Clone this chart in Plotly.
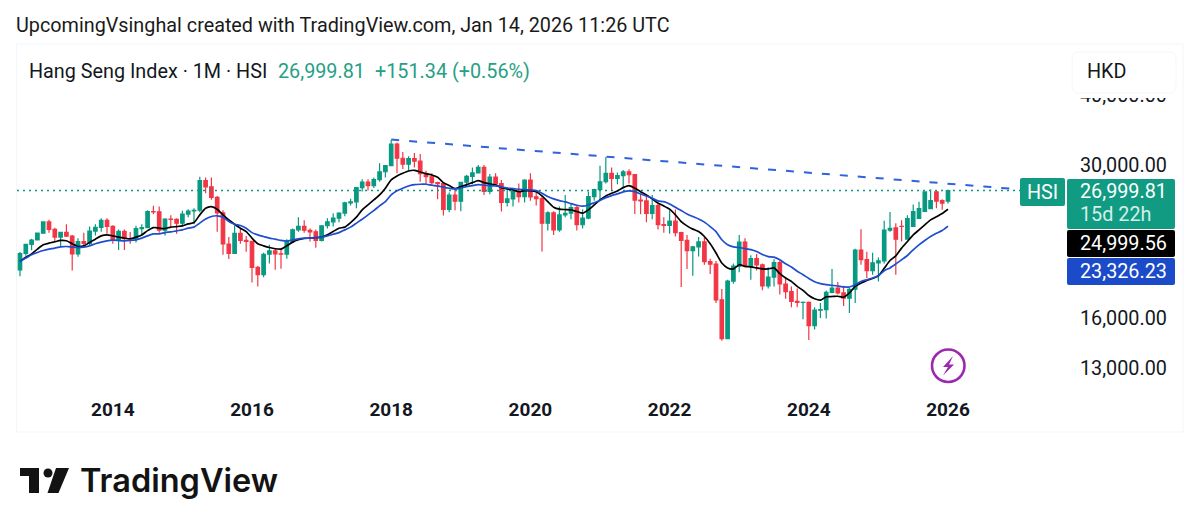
import plotly.graph_objects as go

# Month index 0 = Sep 2012, last = Jan 2026
open_values = [19482,20840,21641,22030,22656,23729,23020,22299,22737,22392,20803,21883,21731,22859,23206,23881,
23306,22035,22836,22151,22134,23081,23190,24756,24742,22932,23998,23987,23605,24507,24823,24900,28133,27424,26250,24636,
21670,20846,22640,21996,21914,19683,19111,20777,21067,20815,20794,21891,22977,23297,22934,22790,22000,23361,23741,24111,
24615,25660,25765,27323,27970,27554,28245,29177,29919,32700,30844,30093,30808,30468,28955,28583,27888,27788,24979,26506,
25845,27942,28633,29051,29699,26901,28542,27777,25724,26092,26906,26346,28189,26312,26129,23603,24643,22961,24427,24595,
25177,23459,24107,26341,27100,28000,28980,28378,28725,29151,28827,25961,25878,24575,25377,23475,23397,23802,22713,21996,
21089,21415,21859,20156,19954,17222,14687,18597,19781,21842,19785,20400,19894,18234,18916,20078,18382,17809,17112,17042,
17047,15485,16511,16541,17763,18079,17718,17344,17989,21133,20317,19424,20059,20225,22941,23160,23300,22119,23290,24072,
24773,25077,26855,25906,25858,25631]
high_values = [20960,21700,22150,22700,23750,23944,23180,22800,23512,22500,22200,22700,23300,23500,24100,24100,
23400,23000,23000,22760,23370,23500,24900,25360,25300,24100,24400,24100,24850,25000,25100,28588,28500,28500,26400,24900,
22300,23400,23100,22400,21915,19800,20900,21600,21300,21300,22100,23100,24200,23900,23100,23000,23400,24100,24600,24700,
25800,26100,27400,28300,28300,28500,30199,30003,33250,32900,31650,31100,31500,31400,29300,29000,28000,27800,26800,27260,
28000,28800,29700,30000,30000,28900,29000,28200,27400,27000,27800,28300,29000,27000,26400,24800,24800,25300,26500,25600,
25400,25000,26900,27200,29900,31000,29700,29100,29400,29490,28900,26600,26500,26500,25700,24200,24900,24966,22800,22500,
21500,22300,22300,20400,20200,18000,18700,20000,22500,22200,20700,20800,20000,19700,20361,20250,18900,18200,18050,17100,
17100,16700,17000,17900,19560,18540,18250,18100,21250,23040,21000,20900,20500,23860,24720,23600,23900,24400,25500,25800,
26900,27120,27000,26050,27000]
low_values = [18980,20640,21130,22000,22660,22700,21900,21400,22300,19426,20570,21350,21560,22450,22800,22600,
21700,21150,21137,21700,21800,22500,23190,24500,22700,22450,23300,22600,23300,24200,23500,24700,26700,26000,22800,20730,
20368,20800,21700,21000,18500,18200,18900,20000,19500,19580,20400,21800,22800,22700,21900,21340,21900,23100,23300,23700,
24300,25400,25100,26900,27000,27300,28000,28500,29900,28990,29500,29300,29700,28000,27640,27500,26050,24360,24700,24900,
24800,27500,27700,29400,26500,26600,27500,24770,25300,25300,25700,25700,25900,25400,21010,22900,22500,22800,24200,24000,
22900,23100,24000,25900,26000,27800,27000,27700,27400,27800,24530,24500,23700,24000,23000,22700,22600,22350,18160,19560,
19020,20580,19900,19150,17000,14560,14680,18400,19300,19700,18710,19440,17910,18050,18200,17600,17300,16700,16700,15900,
14600,15240,15990,15950,17700,17600,16800,16320,17000,19900,18840,19100,18580,20000,22800,19100,21900,23000,23900,24500,
24800,25010,25110,24940,25600]
close_values = [20840,21641,22030,22656,23729,23020,22299,22737,22392,20803,21883,21731,22859,23206,23881,23306,
22035,22836,22151,22134,23081,23190,24756,24742,22932,23998,23987,23605,24507,24823,24900,28133,27424,26250,24636,21670,
20846,22640,21996,21914,19683,19111,20777,21067,20815,20794,21891,22977,23297,22934,22790,22000,23361,23741,24111,24615,
25660,25765,27323,27970,27554,28245,29177,29919,32700,30844,30093,30808,30468,28955,28583,27888,27788,24979,26506,25845,
27942,28633,29051,29699,26901,28542,27777,25724,26092,26906,26346,28189,26312,26129,23603,24643,22961,24427,24595,25177,
23459,24107,26341,27100,28000,28980,28378,28725,29151,28827,25961,25878,24575,25377,23475,23397,23802,22713,21996,21089,
21415,21859,20156,19954,17222,14687,18597,19781,21842,19785,20400,19894,18234,18916,20078,18382,17809,17112,17042,17047,
15485,16511,16541,17763,18079,17718,17344,17989,21133,20317,19424,20059,20225,22941,23119,22100,23290,24072,24773,25077,
26855,25906,25858,25631,26999.81]
black_line = [20170,20530,20810,21220,21600,21750,21870,21990,21960,21690,21450,21510,21810,22110,22410,22500,
22410,22290,22200,22140,22290,22500,22900,23190,23130,23090,23230,23280,23350,23540,23670,24430,25110,25280,25010,24430,
23930,23510,23130,22810,22200,21690,21510,21360,21250,21220,21510,21840,22050,22170,22200,22250,22290,22500,22810,23130,
23230,23670,24200,24940,25450,25980,26520,27260,28210,28680,29000,29270,29350,29150,28950,28790,28520,27900,27560,27210,
27440,27640,27900,28130,27900,27750,27640,27330,27180,27070,26880,26990,26990,26880,26410,25800,25210,25010,24970,24940,
24770,24600,24940,25450,25980,26410,26700,26960,27330,27560,27260,26880,26520,26090,25640,25350,25010,24430,23770,23350,
23040,22810,22350,21690,20880,20040,19640,19560,19900,19770,19720,19640,19560,19560,19640,19180,18840,18580,18200,17910,
17530,17300,17200,17440,17460,17480,17410,17720,18200,18450,18660,18810,19020,19610,20250,20640,21310,21900,22500,22970,
23450,23930,24250,24570,24999.56]
blue_line = [20170,20450,20730,20930,21100,21220,21310,21420,21450,21400,21360,21400,21510,21690,21840,21960,
22020,21990,21960,21990,22050,22200,22410,22590,22590,22710,22780,22880,22970,23130,23230,23620,24010,24270,24340,24210,
23770,23510,23380,23130,22710,22500,22350,22200,22110,21990,21930,22050,22140,22200,22200,22230,22290,22410,22560,22710,
22970,23230,23620,24000,24430,24870,25350,25800,26520,26990,27260,27520,27670,27710,27710,27600,27520,27380,27260,27180,
27290,27440,27560,27670,27600,27560,27520,27410,27290,27210,27150,27100,27070,26990,26700,26340,26090,25910,25770,25590,
25420,25320,25450,25690,25910,26230,26450,26630,26850,26960,26880,26630,26410,26160,25880,25800,25560,25210,24870,24530,
24260,24030,23710,23280,22810,22050,21600,21420,21360,21270,21180,21010,20750,20580,20530,20310,19980,19720,19370,19100,
18810,18560,18410,18330,18280,18230,18160,18160,18330,18580,18710,18840,19020,19420,19640,19960,20310,20670,21160,21600,
21990,22350,22650,22910,23326.23]
year_labels = ["2014","2016","2018","2020","2022","2024","2026"]
year_months = [16,40,64,88,112,136,160]
price_ticks = [13000,16000,30000,40000]
trend_months = [64,171.5]
trend_prices = [33300,27180]
GREEN = "#089981"; RED = "#F23645"; BLACK = "#000000"; BLUE = "#1E4ECF"
FONT = "Roboto"
L, R, T, B = 17, 1065, 90, 390
W, H = 1200, 531
def fx(p): return (p - L) / (R - L)
def fy(p): return (B - p) / (B - T)

months = list(range(len(close_values)))
fig = go.Figure()
fig.add_trace(go.Scatter(x=[-0.517,180.17], y=[close_values[-1]]*2, mode="lines",
    line=dict(color=GREEN, width=1.5, dash="2px,4px"), hoverinfo="skip"))
fig.add_trace(go.Candlestick(x=months, open=open_values, high=high_values, low=low_values, close=close_values,
    increasing=dict(line=dict(color=GREEN, width=1.2), fillcolor=GREEN),
    decreasing=dict(line=dict(color=RED, width=1.2), fillcolor=RED), whiskerwidth=0))
fig.add_trace(go.Scatter(x=months, y=black_line, mode="lines", line=dict(color=BLACK, width=1.7, shape="spline", smoothing=0.6)))
fig.add_trace(go.Scatter(x=months, y=blue_line, mode="lines", line=dict(color=BLUE, width=1.7, shape="spline", smoothing=0.6)))
fig.add_trace(go.Scatter(x=trend_months, y=trend_prices, mode="lines", line=dict(color="#2F63DE", width=2, dash="8px,10px")))

shapes, ann = [], []
def rect(x0, y0, x1, y1, fill, line=None, r=2):
    xa, xb, ya, yb = fx(x0), fx(x1), fy(y0), fy(y1)
    rx, ry = r/(R-L), r/(B-T)
    path = (f"M{xa+rx},{ya} L{xb-rx},{ya} Q{xb},{ya} {xb},{ya-ry} L{xb},{yb+ry} Q{xb},{yb} {xb-rx},{yb} "
            f"L{xa+rx},{yb} Q{xa},{yb} {xa},{yb+ry} L{xa},{ya-ry} Q{xa},{ya} {xa+rx},{ya} Z")
    shapes.append(dict(type="path", path=path, xref="paper", yref="paper", fillcolor=fill,
                       line=dict(color=line or fill, width=1 if line else 0), layer="above"))
def poly(pts, fill):
    path = "M" + " L".join(f"{fx(a)},{fy(b)}" for a, b in pts) + " Z"
    shapes.append(dict(type="path", path=path, xref="paper", yref="paper", fillcolor=fill, line=dict(width=0), layer="above"))
def text(x, y, s, color="#131722", size=19.8, anchor="left", weight=400, family=FONT):
    ann.append(dict(x=fx(x), y=fy(y), xref="paper", yref="paper", text=s, showarrow=False, xanchor=anchor, yanchor="middle",
                    xshift=-2 if anchor == "left" else 0, font=dict(family=family, size=size, color=color, weight=weight)))

# frame and header covers
shapes.append(dict(type="rect", xref="paper", yref="paper", x0=fx(16.5), x1=fx(1183), y0=fy(44), y1=fy(432),
                   line=dict(color="#F3F5FA", width=1), fillcolor="rgba(0,0,0,0)", layer="below"))
rect(1066, 45, 1182, 98, "#FFFFFF", r=0)
rect(1072, 52, 1176, 93, "#FFFFFF", line="#F5F6FA", r=7)
text(1087, 72, "HKD")
text(16, 26, "UpcomingVsinghal created with TradingView.com, Jan 14, 2026 11:26 UTC", color="#1a1a1a")
text(29, 71, "Hang Seng Index · 1M · HSI")
text(278, 71, f"{close_values[-1]:,.2f}", color="#26A085")
text(375, 71, "+151.34 (+0.56%)", color="#26A085")
# price tags
rect(1020, 178, 1065, 206, "#119B82", r=2)
text(1042.5, 192, "HSI", color="#FFFFFF", anchor="center")
rect(1067, 179, 1175, 229, "#119B82", r=2)
text(1080, 191, f"{close_values[-1]:,.2f}", color="#FFFFFF")
text(1080, 214, "15d 22h", color="#D5EFE8")
rect(1067, 230, 1175, 257, "#000000", r=2)
text(1080, 243, f"{black_line[-1]:,.2f}", color="#FFFFFF")
rect(1067, 258, 1175, 285, "#1B4BC9", r=2)
text(1080, 271, f"{blue_line[-1]:,.2f}", color="#FFFFFF")
# bolt badge
shapes.append(dict(type="circle", xref="paper", yref="paper", x0=fx(932), x1=fx(964.5), y0=fy(349.5), y1=fy(382),
                   line=dict(color="#9C27B0", width=2.6), fillcolor="#FFFFFF", layer="above"))
poly([(953,356),(943,367),(948,367),(943,375.5),(954,364.5),(949,364.5)], "#9C27B0")
# logo
poly([(20,468),(39,468),(39,493),(29,493),(29,476),(20,476)], "#131313")
shapes.append(dict(type="circle", xref="paper", yref="paper", x0=fx(43.5), x1=fx(52.5), y0=fy(468.5), y1=fy(477.5),
                   line=dict(width=0), fillcolor="#131313", layer="above"))
poly([(56,468),(69,468),(58.5,493),(47.5,493)], "#131313")
text(80, 481, "TradingView", color="#131313", size=32.5, weight=600, family="Inter")

fig.update_layout(width=W, height=H, autosize=False, showlegend=False, paper_bgcolor="#FFFFFF", plot_bgcolor="#FFFFFF",
    boxgap=0.4, boxgroupgap=0,
    margin=dict(l=L, r=W-R, t=T, b=H-B), shapes=shapes, annotations=ann,
    xaxis=dict(range=[-0.517,180.17], rangeslider=dict(visible=False), showgrid=False, zeroline=False, showline=False,
               tickmode="array", tickvals=year_months, ticktext=year_labels, ticks="outside", ticklen=2, tickcolor="#FFFFFF",
               tickfont=dict(family=FONT, size=19, color="#131722", weight=700)),
    yaxis=dict(type="log", side="right", range=[4.0750,4.6111], showgrid=False, zeroline=False, showline=False,
               tickmode="array", tickvals=price_ticks, ticktext=[f"{v:,.2f}" for v in price_ticks], ticks="outside", ticklen=10,
               tickcolor="#FFFFFF", tickfont=dict(family=FONT, size=19.8, color="#131722")))
fig.write_html("out.html", post_script="document.body.style.margin='0';", config={"displayModeBar": False})
